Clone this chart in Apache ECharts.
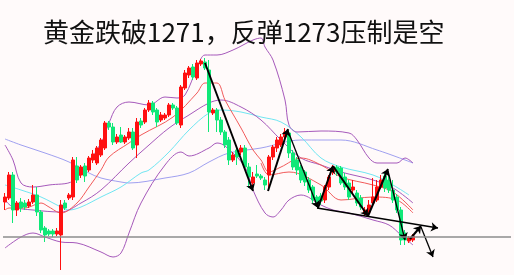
<!DOCTYPE html>
<html><head><meta charset="utf-8">
<script src="https://cdn.jsdelivr.net/npm/echarts@6/dist/echarts.min.js"></script>
<style>html,body{margin:0;padding:0;background:#fffafa;}#c{width:514px;height:275px;}</style>
</head><body><div id="c"></div>
<script>
const titleText = '黄金跌破1271，反弹1273压制是空';
// candles: [open, close, low, high]
const candles = [
[73,78,65,82],[77,100,75,103],[100,65,52,103],[65,72,59,74],[73,67,63,77],[72,68,65,75],[69,73,67,76],[73,80,71,90],[80,63,59,88],[63,45,42,65],
[47,40,33,49],[44,41,39,46],[44,41,38,46],[41,44,39,47],[40,70,5,75],[72,67,65,75],[77,80,75,82],[78,115,75,118],[109,95,92,118],[100,108,97,110],
[109,99,93,112],[105,117,103,119],[115,121,112,125],[112,127,110,129],[120,135,118,137],[127,152,125,154],[152,148,145,154],[148,133,130,152],[133,138,131,141],[140,133,132,148],
[133,138,131,140],[137,143,135,147],[143,127,125,147],[130,153,117,157],[154,150,147,157],[153,165,151,167],[165,172,163,175],[172,163,160,174],[165,153,148,167],[155,160,153,163],
[157,160,155,162],[160,170,158,172],[170,167,165,172],[167,152,150,169],[150,188,147,190],[187,202,185,205],[200,207,197,209],[208,198,195,211],[197,212,195,215],[211,214,209,216],
[213,207,205,217],[205,163,143,215],[162,165,160,167],[165,155,143,167],[155,143,140,158],[143,130,127,145],[135,115,110,138],[115,120,113,123],[125,118,110,128],[123,127,120,130],
[127,108,105,130],[108,98,87,112],[92,98,89,103],[101,99,97,110],[99,97,95,101],[95,90,85,98],[100,118,85,120],[118,128,115,130],[127,135,123,138],[130,138,128,141],
[138,143,135,147],[142,122,117,145],[122,108,105,125],[115,105,100,118],[108,95,92,110],[103,93,89,105],[95,85,82,98],[88,75,72,90],[78,72,68,80],[79,74,70,82],
[75,88,72,90],[88,98,85,100],[103,108,100,110],[108,103,99,110],[107,92,90,109],[98,88,85,102],[92,78,75,95],[85,88,82,95],[82,72,69,85],[77,68,65,80],
[62,65,59,68],[63,70,60,75],[72,78,69,97],[75,88,73,95],[88,95,86,100],[99,87,83,103],[95,85,82,100],[85,75,72,95],[78,65,62,81],[65,35,30,68],
[42,35,30,45],[34,37,32,39],[35,39,33,41]
];
const slotCount = 127;
const categories = [];
for (let i = 0; i < slotCount; i++) categories.push(String(i + 1));

// lines: [bar index, value]
const bbUpper = [[0,130],[2,115],[4,92],[7,88],[11,90],[17,94],[24,132],[26,152],[28,168],[31,173],[36,170],[40,178],[43,177],[45,180],[48,207],[50,220],[53,220],[57,225],[62,235],[64,237],[65,228],[67,215],[70,175],[71,150],[73,143],[79,144],[86,142],[88,135],[91,117],[93,112],[98,112],[100,117],[102,112]];
const bbMiddle = [[0,75],[2,68],[7,65],[14,63],[19,72],[24,85],[31,112],[36,130],[41,147],[46,160],[51,172],[54,175],[59,168],[64,155],[69,135],[74,117],[79,110],[84,103],[92,95],[97,87],[102,72]];
const bbLower = [[0,27],[4,38],[7,42],[10,38],[14,33],[18,32],[24,23],[27,18],[29,22],[31,42],[34,72],[40,110],[44,123],[46,119],[51,127],[53,132],[55,129],[60,108],[62,85],[65,62],[67,58],[69,65],[71,75],[74,80],[79,70],[82,65],[86,62],[92,55],[96,50],[99,40],[102,30]];
const maRed = [[0,65],[1,67],[5,67],[9,72],[11,68],[14,62],[18,72],[21,88],[24,105],[26,118],[31,132],[34,140],[42,158],[48,182],[50,192],[53,192],[55,175],[59,147],[62,125],[64,115],[66,103],[69,108],[74,117],[79,110],[84,98],[92,90],[97,83],[102,65]];
const maRed2 = [[64,112],[66,100],[71,103],[79,90],[84,75],[92,78],[98,75],[102,62]];
const maCyan = [[0,90],[4,85],[9,78],[14,68],[16,65],[19,68],[24,78],[29,88],[34,102],[36,105],[41,123],[46,145],[51,162],[54,165],[59,163],[64,158],[69,153],[74,138],[79,117],[84,108],[92,100],[97,90],[101,80]];
const maViolet = [[0,136],[4,130],[10,122],[16,113],[21,102],[24,97],[29,93],[31,92],[40,97],[46,102],[51,113],[56,122],[64,127],[74,135],[84,135],[93,125],[102,112]];
const priceLine = 38;
// arrows: [fromIndex, fromValue, toIndex, toValue]
const arrowsBold = [[50,212,62,84],[65.75,84,70.75,146],[78.25,67,82,109],[82,109,90.75,59],[90.75,59,95.75,106],[101.25,36,104,49]];
const arrowsThin = [[70.75,144,78.25,67],[95.75,104,100,35],[104,48,107,18],[78,67,108.25,47]];

const chart = echarts.init(document.getElementById('c'));
function lineSeries(data, color, width) {
  return {type:'line', xAxisIndex:1, data:data, smooth:0.35, symbol:'none', silent:true,
    lineStyle:{color:color, width:width}, z:2};
}
function arrowItems(list, width) {
  return list.map(a => [
    {coord:[a[0], a[1]], lineStyle:{color:'#000', width:width, type:'solid'}},
    {coord:[a[2], a[3]]}
  ]);
}
chart.setOption({
  animation:false,
  backgroundColor:'#fffafa',
  title:{text:titleText, left:38, top:14, textStyle:{fontFamily:'Noto Sans CJK SC', fontSize:26, fontWeight:'normal', color:'#111'}},
  grid:{left:3, right:3, top:0, bottom:0},
  xAxis:[
    {type:'category', data:categories, show:false, boundaryGap:true},
    {type:'value', min:-0.5, max:slotCount-0.5, show:false}
  ],
  yAxis:{type:'value', min:0, max:275, show:false},
  series:[
    lineSeries(maViolet, '#a0a0f0', 1),
    lineSeries(maCyan, '#70e6f2', 1),
    lineSeries(bbUpper, '#a659bb', 1),
    lineSeries(bbMiddle, '#a659bb', 1),
    lineSeries(bbLower, '#a659bb', 1),
    lineSeries(maRed, '#f25a5a', 1),
    lineSeries(maRed2, '#f25a5a', 1),
    {type:'candlestick', xAxisIndex:0, data:candles, barWidth:3, z:3,
      itemStyle:{color:'#ff1010', color0:'#10e878', borderColor:'#ff1010', borderColor0:'#10e878', borderWidth:1}},
    {type:'line', xAxisIndex:1, data:[], z:5,
      markLine:{silent:true, symbol:['none','arrow'], symbolSize:7, label:{show:false},
        data: arrowItems(arrowsBold, 2).concat(arrowItems(arrowsThin, 1.3))}},
    {type:'line', xAxisIndex:1, data:[], z:1,
      markLine:{silent:true, symbol:['none','none'], label:{show:false},
        lineStyle:{color:'#8c8c8c', width:1.5, type:'solid'}, data:[{yAxis:priceLine}]}}
  ]
});
</script></body></html>
